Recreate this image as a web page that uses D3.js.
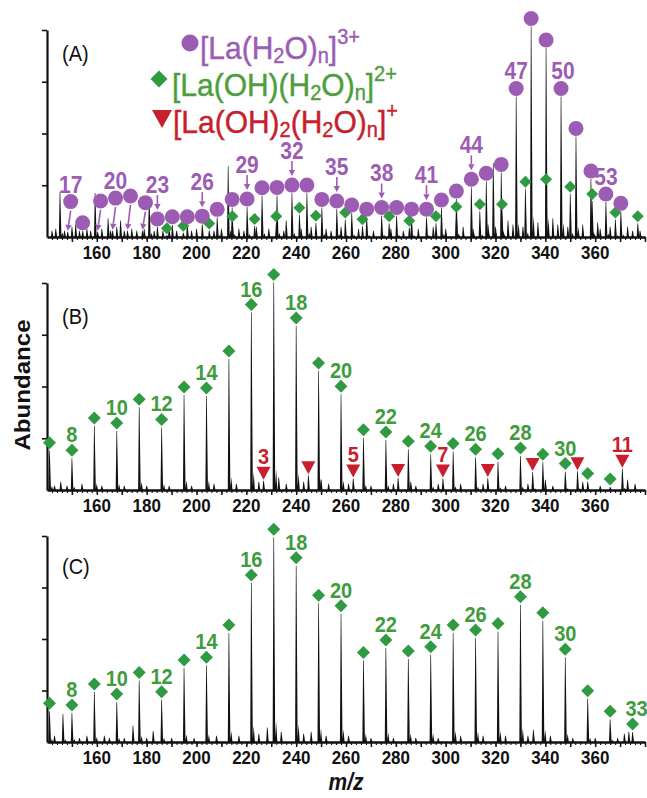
<!DOCTYPE html>
<html>
<head>
<meta charset="utf-8">
<script src="https://cdn.jsdelivr.net/npm/d3@7"></script>
<style>
  body { margin: 0; background: #fff; }
  text { font-family: 'Liberation Sans', Arial, sans-serif; }
</style>
</head>
<body>
<div id="chart"></div>
<script>
// ---- data (m/z, relative abundance: 100 = top axis tick) ----

// panel A: [La(H2O)n]3+ series, n = 17..54
let aPurpleN = d3.range(17, 55);
let aPurpleMz = [148.3,154.3,160.3,166.3,172.3,178.3,184.3,190.3,196.3,202.3,208.3,214.3,220.3,226.3,232.3,238.3,244.3,250.3,256.3,262.3,268.3,274.3,280.3,286.3,292.3,298.3,304.3,310.3,316.3,322.3,328.3,334.3,340.3,346.3,352.3,358.3,364.3,370.3];
let aPurpleH = [2.5,3.0,2.5,3.0,3.0,3.0,4.8,5.9,5.9,6.2,9.5,14.3,14.5,19.9,20.1,21.2,21.2,14.3,13.5,11.6,9.6,10.4,10.4,9.6,9.6,14.0,18.3,24.0,26.9,31.2,67.9,101.7,91.3,67.9,48.6,28.0,16.9,12.4];
// small peaks whose marker is lifted and points down with an arrow
let aLiftN = [17, 19, 20, 21, 22];
let aLiftMark = [17.1, 17.4, 18.8, 19.8, 16.6];
let aLabelN = [17, 20, 23, 26, 29, 32, 35, 38, 41, 44, 47, 50, 53];
let aLabelArrowN = [23, 26, 29, 32, 35, 38, 41, 44];
// panel A: [La(OH)(H2O)n]2+ markers
let aGreenMz = [188.1,194.7,205.1,214.4,223.3,232.0,241.3,247.9,259.7,266.6,277.3,285.4,296.1,304.3,313.7,322.6,332.0,340.3,350.0,358.8,368.1,377.1];
let aGreenH = [0.8,2.1,3.2,6.7,5.3,6.7,10.8,6.9,8.5,5.2,6.7,4.5,6.7,11.2,12.4,12.4,23.3,24.5,20.9,17.4,8.5,6.7];
// panel A: unassigned peaks and baseline noise
let aOther = [[145.2,21.7],[159.3,21.3],[151.5,6],[164.5,9],[169.5,8],[181,18.8],[212.7,34.3],[236,8],[319.1,35.7],[325,8],[343,9],[361,7],[373,5],
    [142,3],[143.5,4],[147,3],[150,5],[153,3],[156,4],[157.5,3],[162,4],[165.5,3],[168,5],[171,3],[174,4],[176,3],[179,4],[183,3],[186.5,3],
    [189,4],[192,3],[198,3],[200,4],[207,3],[210,4],[217,4],[219,3],[224,5],[229,4],[235,3],[242,4],[246,5],[252,4],[254,3],[258,5],[265,4],
    [271,3],[278,4],[283,3],[289,4],[295,5],[300,4],[307,5],[311,4],[317,6],[320,5],[327,6],[331,5],[337,7],[345,6],[349,5],[355,6],[362,4],
    [366,5],[375,3],[378,3]];

// panel B: [La(OH)(H2O)n]2+, n = 7..32
let bGreenN = d3.range(7, 33);
let bGreenMz = [141,150,159,168,177,186,195,204,213,222,231,240,249,258,267,276,285,294,303,312,321,330,339,348,357,366];
let bGreenH = [19,15.3,30.9,28.5,40,30.2,45.9,45.4,63.3,85.7,100.3,79.2,57.5,46.2,25.3,24.2,19.7,17.3,18.6,15.8,13.7,16.4,13.4,8.9,4.1,1.5];
let bLabelN = [8, 10, 12, 14, 16, 18, 20, 22, 24, 26, 28, 30];
// panel B: [La(OH)2(H2O)n]+, n = 3..11
let bRedN = d3.range(3, 12);
let bRedMz = [226.9,244.9,262.9,280.9,298.9,316.9,334.9,352.9,370.9];
let bRedH = [4.5,7.1,5.5,5.8,5.5,5.8,8.7,9.0,10.3];
let bRedLabelN = [3, 5, 7, 11];
let bOther = [[145.5,4],[233,6],[250,5],[286,4],[340,5],[373,5],
    [143,2],[148,2],[154,3],[162,2],[171,2],[180,2],[189,2],[198,2],[207,3],[216,3],[225,4],[236,3],[243,4],[253,3],[261,3],
    [270,2],[279,3],[288,2],[297,3],[306,3],[315,3],[324,2],[333,3],[343,2],[355,4],[362,2],[376,3]];

// panel C: [La(OH)(H2O)n]2+, n = 7..33
let cGreenN = d3.range(7, 34);
let cGreenMz = [141,150,159,168,177,186,195,204,213,222,231,240,249,258,267,276,285,294,303,312,321,330,339,348,357,366,375];
let cGreenH = [14.9,14.1,24.3,19.4,29.9,20.5,35.9,37.2,52.9,77.2,99.4,85.6,67.3,62.3,39.6,45.6,40.3,42.4,52.9,50.5,53.7,66.6,58.9,41.1,21.0,11.1,4.8];
let cLabelN = [8, 10, 12, 14, 16, 18, 20, 22, 24, 26, 28, 30, 33];
let cOther = [[146.4,13.6],[174.5,8],[182.6,5.3],[228.4,7],[335.2,6],[371.7,4],[373.5,5],
    [143,3],[153,2],[156,3],[163,3],[165,2],[171,2],[180,2],[190,2],[199,2],[208,3],[217,3],[225,4],[234,5],[243,4],[246,5],
    [252,3],[261,3],[270,2],[279,2],[288,2],[297,2],[306,3],[315,3],[324,3],[333,3],[342,3],[351,2],[360,2],[369,2]];

let xTickLabels = [160, 180, 200, 220, 240, 260, 280, 300, 320, 340, 360];

// ---- layout ----
const width = 647, height = 798;
const purple = '#9d5cb3', green = '#2f9a42', greenText = '#3f9c3c', red = '#c71f2d';
const stretch = 1.12;

const svg = d3.select('#chart').append('svg')
    .attr('width', width)
    .attr('height', height);

const x = d3.scaleLinear().domain([140, 380]).range([47, 645]);

const panels = [
    {letter: '(A)', top: 30, base: 237, letterY: 61},
    {letter: '(B)', top: 283, base: 490, letterY: 324},
    {letter: '(C)', top: 536, base: 742, letterY: 574}
];
panels.forEach(p => {
    p.y = d3.scaleLinear().domain([0, 100]).range([p.base, p.top]);
    p.g = svg.append('g');
});

// text helper: slightly tall glyphs as in the original figure
function label(g, px, py, str, size, color, weight, anchor) {
    return g.append('text')
        .attr('transform', `translate(${px},${py}) scale(1,${stretch})`)
        .attr('text-anchor', anchor || 'middle')
        .attr('font-size', size)
        .attr('font-weight', weight || 'bold')
        .attr('fill', color)
        .text(str);
}

function peakPath(mz, h, y) {
    const px = x(mz), b = y(0), t = y(h);
    let d = `M${px - 1.1},${b}L${px - 0.3},${t}L${px + 0.3},${t}L${px + 1.5},${b}Z`;
    if (h > 8) {
        const s = b - (b - t) * 0.1;
        d += `M${px + 1.2},${b}L${px + 2.4},${s}L${px + 3.6},${b}Z`;
    }
    return d;
}

function drawPeaks(p, peaks) {
    p.g.append('g').selectAll('path')
        .data(peaks).join('path')
        .attr('d', d => peakPath(d[0], d[1], p.y))
        .attr('fill', '#111');
}

function diamond(g, cx, cy, r) {
    g.append('path')
        .attr('d', `M${cx},${cy - r}L${cx + r},${cy}L${cx},${cy + r}L${cx - r},${cy}Z`)
        .attr('fill', green);
}

function triangle(g, cx, tipY, w, h) {
    g.append('path')
        .attr('d', `M${cx - w / 2},${tipY - h}L${cx + w / 2},${tipY - h}L${cx},${tipY}Z`)
        .attr('fill', red);
}

function arrow(g, x1, y1, x2, y2) {
    const ang = Math.atan2(y2 - y1, x2 - x1);
    const hl = 6, hw = 3.2;
    const bx = x2 - hl * Math.cos(ang), by = y2 - hl * Math.sin(ang);
    g.append('line')
        .attr('x1', x1).attr('y1', y1).attr('x2', bx).attr('y2', by)
        .attr('stroke', purple).attr('stroke-width', 1.6);
    g.append('path')
        .attr('d', `M${x2},${y2}L${bx + hw * Math.sin(ang)},${by - hw * Math.cos(ang)}L${bx - hw * Math.sin(ang)},${by + hw * Math.cos(ang)}Z`)
        .attr('fill', purple);
}

// ---- axes ----
panels.forEach(p => {
    const yAxis = d3.axisLeft(p.y).tickValues([25, 50, 75, 100]).tickSize(5).tickSizeOuter(0).tickFormat('');
    const ya = p.g.append('g').attr('transform', 'translate(47,0)').call(yAxis);
    ya.select('.domain').attr('stroke-width', 2.2).attr('stroke', '#111');
    ya.selectAll('.tick line').attr('stroke-width', 1.6).attr('stroke', '#111');

    const minor = d3.axisBottom(x).tickValues(d3.range(142, 381, 2)).tickSize(3).tickSizeOuter(0).tickFormat('');
    const xa = p.g.append('g').attr('transform', `translate(0,${p.base})`).call(minor);
    xa.select('.domain').attr('stroke-width', 2.4).attr('stroke', '#111');
    xa.selectAll('.tick line').attr('stroke-width', 1.1).attr('stroke', '#111');
    const major = d3.axisBottom(x).tickValues(d3.range(150, 381, 10)).tickSize(5).tickSizeOuter(0).tickFormat('');
    const xm = p.g.append('g').attr('transform', `translate(0,${p.base})`).call(major);
    xm.select('.domain').remove();
    xm.selectAll('.tick line').attr('stroke-width', 1.5).attr('stroke', '#111');

    xTickLabels.forEach(v => label(p.g, x(v), p.base + 22, v, 17, '#111'));
    label(p.g, 62, p.letterY, p.letter, 20, '#111', 'normal', 'start');
});

// ---- panel A ----
const A = panels[0];
drawPeaks(A, aOther);
drawPeaks(A, aGreenMz.map((m, i) => [m, aGreenH[i]]));
drawPeaks(A, aPurpleMz.map((m, i) => [m, aPurpleH[i]]));
aGreenMz.forEach((m, i) => diamond(A.g, x(m), A.y(aGreenH[i]) - 7, 6));
aPurpleN.forEach((n, i) => {
    const px = x(aPurpleMz[i]);
    const top = A.y(aPurpleH[i]);
    let cx = px, cy = top - 8;
    const li = aLiftN.indexOf(n);
    if (li >= 0) {
        cx = px + 3;
        cy = A.y(aLiftMark[li]);
        arrow(A.g, cx, cy + 9, px, top - 1);
    }
    A.g.append('circle').attr('cx', cx).attr('cy', cy).attr('r', 7.5).attr('fill', purple);
    if (aLabelN.includes(n)) {
        if (aLabelArrowN.includes(n)) {
            arrow(A.g, cx, cy - 24, cx, cy - 9);
            label(A.g, cx, cy - 26, n, 21, purple);
        } else {
            label(A.g, cx + (n === 50 ? 2 : 0), cy - 9, n, 21, purple);
        }
    }
});

// legend
function formula(g, px, py, parts, color) {
    const t = g.append('text')
        .attr('transform', `translate(${px},${py}) scale(1,${stretch * 0.96})`)
        .attr('font-size', 30).attr('fill', color)
        .attr('stroke', color).attr('stroke-width', 0.4);
    parts.forEach(([s, kind]) => {
        const ts = t.append('tspan').text(s);
        if (kind === 'sub') ts.attr('font-size', 20).attr('dy', 4);
        else if (kind === 'sup') ts.attr('font-size', 20).attr('dy', -14);
        else if (kind === 'back') ts.attr('dy', -4);
    });
}
A.g.append('circle').attr('cx', 190).attr('cy', 43).attr('r', 8.5).attr('fill', purple);
formula(A.g, 200, 59, [['[La(H'], ['2', 'sub'], ['O)', 'back'], ['n', 'sub'], [']', 'back'], ['3+', 'sup']], purple);
diamond(A.g, 159, 79, 8.5);
formula(A.g, 172, 96, [['[La(OH)(H'], ['2', 'sub'], ['O)', 'back'], ['n', 'sub'], [']', 'back'], ['2+', 'sup']], '#4e9e3e');
triangle(A.g, 162, 128, 20, 18);
formula(A.g, 173, 133, [['[La(OH)'], ['2', 'sub'], ['(H', 'back'], ['2', 'sub'], ['O)', 'back'], ['n', 'sub'], [']', 'back'], ['+', 'sup']], red);

// ---- panel B ----
const B = panels[1];
drawPeaks(B, bOther);
drawPeaks(B, bRedMz.map((m, i) => [m, bRedH[i]]));
drawPeaks(B, bGreenMz.map((m, i) => [m, bGreenH[i]]));
bGreenN.forEach((n, i) => {
    const cx = x(bGreenMz[i]), cy = B.y(bGreenH[i]) - 8;
    diamond(B.g, cx, cy, 6.5);
    if (bLabelN.includes(n)) label(B.g, cx, cy - 8, n, 20, greenText);
});
bRedN.forEach((n, i) => {
    const cx = x(bRedMz[i]), tip = B.y(bRedH[i]) - 1;
    triangle(B.g, cx, tip, 14, 13);
    if (bRedLabelN.includes(n)) label(B.g, cx, tip - 16, n, 20, red);
});

// ---- panel C ----
const C = panels[2];
drawPeaks(C, cOther);
drawPeaks(C, cGreenMz.map((m, i) => [m, cGreenH[i]]));
cGreenN.forEach((n, i) => {
    const cx = x(cGreenMz[i]), cy = C.y(cGreenH[i]) - 8;
    diamond(C.g, cx, cy, 6.5);
    if (cLabelN.includes(n)) label(C.g, cx + (n === 33 ? 4 : 0), cy - 8, n, 20, greenText);
});

// ---- axis titles ----
svg.append('text')
    .attr('transform', `translate(30,385) rotate(-90) scale(${stretch},1)`)
    .attr('text-anchor', 'middle')
    .attr('font-size', 21.5)
    .attr('font-weight', 'bold')
    .attr('fill', '#111')
    .text('Abundance');
svg.append('text')
    .attr('transform', `translate(346,790) scale(1,${stretch})`)
    .attr('text-anchor', 'middle')
    .attr('font-size', 21)
    .attr('font-weight', 'bold')
    .attr('font-style', 'italic')
    .attr('fill', '#111')
    .text('m/z');
</script>
</body>
</html>
